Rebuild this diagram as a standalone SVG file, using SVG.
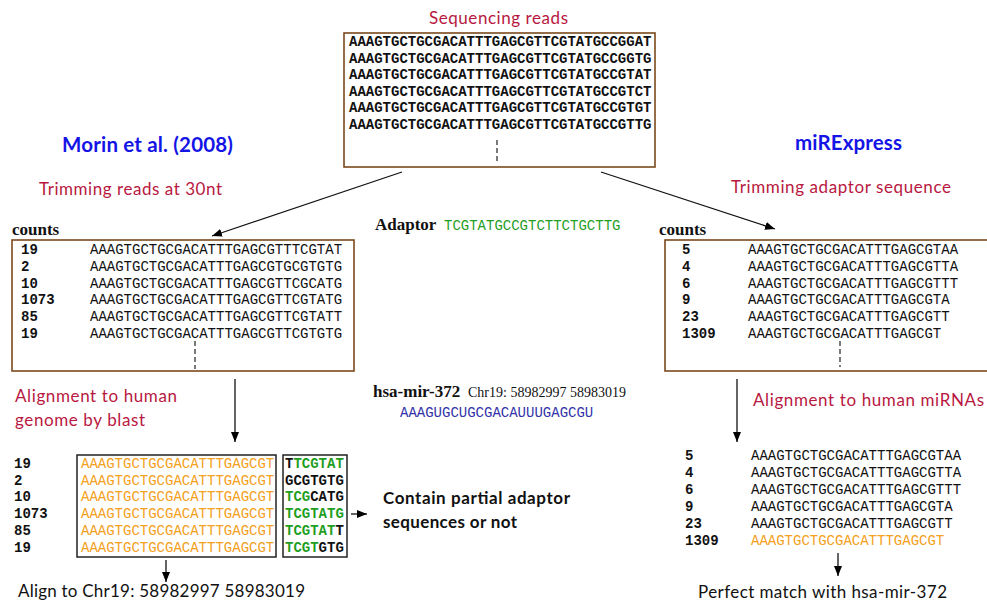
<svg xmlns="http://www.w3.org/2000/svg" width="987" height="604" viewBox="0 0 987 604">
<defs>
<marker id="ah" viewBox="0 0 10 8" refX="10" refY="4" markerWidth="10" markerHeight="8" markerUnits="userSpaceOnUse" orient="auto">
<path d="M0,0 L10,4 L0,8 Z" fill="#000"/>
</marker>
<style>
.box{fill:#fff;stroke:#7b4a1c;stroke-width:1.6}
.kbox{fill:#fff;stroke:#222;stroke-width:1.5}
.seq{font-family:"Liberation Mono",monospace;font-size:14px;fill:#111}
.sb{font-weight:bold}
.num{font-family:"Liberation Mono",monospace;font-size:14px;font-weight:bold;fill:#111}
.red{font-family:Lato,"Open Sans",sans-serif;font-size:17px;fill:#b8183f}
.blk{font-family:Lato,"Open Sans",sans-serif;font-size:17px;fill:#111}
.head{font-family:Lato,"Open Sans",sans-serif;font-size:20.5px;font-weight:bold;fill:#1414e6}
.ser{font-family:"Liberation Serif",serif;font-weight:bold;fill:#111}
.dash{stroke:#222;stroke-width:1.2;stroke-dasharray:5,3}
.conn{stroke:#111;stroke-width:1.3;fill:none;marker-end:url(#ah)}
.org{fill:#f4a020}
.grn{fill:#1f9e1f}
</style>
</defs>
<rect width="987" height="604" fill="#fff"/>

<g id="reads">
<text class="red" x="429" y="24" textLength="139">Sequencing reads</text>
<rect class="box" x="344" y="33" width="311" height="134"/>
<g class="seq sb">
<text x="349" y="46">AAAGTGCTGCGACATTTGAGCGTTCGTATGCCGGAT</text>
<text x="349" y="62.6">AAAGTGCTGCGACATTTGAGCGTTCGTATGCCGGTG</text>
<text x="349" y="79.2">AAAGTGCTGCGACATTTGAGCGTTCGTATGCCGTAT</text>
<text x="349" y="95.8">AAAGTGCTGCGACATTTGAGCGTTCGTATGCCGTCT</text>
<text x="349" y="112.4">AAAGTGCTGCGACATTTGAGCGTTCGTATGCCGTGT</text>
<text x="349" y="129">AAAGTGCTGCGACATTTGAGCGTTCGTATGCCGTTG</text>
</g>
<line class="dash" x1="497" y1="140" x2="497" y2="164"/>
</g>

<g id="morin-title">
<text class="head" x="62" y="152" textLength="171">Morin et al. (2008)</text>
<text class="red" x="39" y="195" textLength="183">Trimming reads at 30nt</text>
</g>

<g id="mirexpress-title">
<text class="head" x="795" y="150" textLength="107">miRExpress</text>
<text class="red" x="731" y="193" textLength="220">Trimming adaptor sequence</text>
</g>

<g id="left-counts">
<text class="ser" x="12" y="235" font-size="17">counts</text>
<rect class="box" x="12" y="240" width="342" height="131"/>
<g class="num">
<text x="21" y="254">19</text>
<text x="21" y="270.8">2</text>
<text x="21" y="287.6">10</text>
<text x="21" y="304.4">1073</text>
<text x="21" y="321.2">85</text>
<text x="21" y="338">19</text>
</g>
<g class="seq">
<text x="90" y="254">AAAGTGCTGCGACATTTGAGCGTTTCGTAT</text>
<text x="90" y="270.8">AAAGTGCTGCGACATTTGAGCGTGCGTGTG</text>
<text x="90" y="287.6">AAAGTGCTGCGACATTTGAGCGTTCGCATG</text>
<text x="90" y="304.4">AAAGTGCTGCGACATTTGAGCGTTCGTATG</text>
<text x="90" y="321.2">AAAGTGCTGCGACATTTGAGCGTTCGTATT</text>
<text x="90" y="338">AAAGTGCTGCGACATTTGAGCGTTCGTGTG</text>
</g>
<line class="dash" x1="195" y1="341" x2="195" y2="369"/>
</g>

<g id="right-counts">
<text class="ser" x="659" y="235" font-size="17">counts</text>
<rect class="box" x="665" y="240" width="340" height="131"/>
<g class="num">
<text x="682" y="254">5</text>
<text x="682" y="270.8">4</text>
<text x="682" y="287.6">6</text>
<text x="682" y="304.4">9</text>
<text x="682" y="321.2">23</text>
<text x="682" y="338">1309</text>
</g>
<g class="seq">
<text x="748" y="254">AAAGTGCTGCGACATTTGAGCGTAA</text>
<text x="748" y="270.8">AAAGTGCTGCGACATTTGAGCGTTA</text>
<text x="748" y="287.6">AAAGTGCTGCGACATTTGAGCGTTT</text>
<text x="748" y="304.4">AAAGTGCTGCGACATTTGAGCGTA</text>
<text x="748" y="321.2">AAAGTGCTGCGACATTTGAGCGTT</text>
<text x="748" y="338">AAAGTGCTGCGACATTTGAGCGT</text>
</g>
<line class="dash" x1="840" y1="341" x2="840" y2="367"/>
</g>

<g id="adaptor">
<text class="ser" x="375" y="230" font-size="17">Adaptor</text>
<text class="seq grn" x="444" y="230">TCGTATGCCGTCTTCTGCTTG</text>
</g>

<g id="mir372">
<text class="ser" x="373" y="397" font-size="17">hsa-mir-372</text>
<text x="468" y="397" font-family="'Liberation Serif',serif" font-size="14" fill="#111">Chr19: 58982997 58983019</text>
<text class="seq" x="400" y="417" style="fill:#3333a8">AAAGUGCUGCGACAUUUGAGCGU</text>
</g>

<g id="left-align-label">
<text class="red" x="15" y="402" textLength="162">Alignment to human</text>
<text class="red" x="15" y="426" textLength="130">genome by blast</text>
</g>

<g id="right-align-label">
<text class="red" x="753" y="406" textLength="231">Alignment to human  miRNAs</text>
</g>

<g id="left-alignment">
<g class="num">
<text x="14" y="468">19</text>
<text x="14" y="484.7">2</text>
<text x="14" y="501.4">10</text>
<text x="14" y="518.1">1073</text>
<text x="14" y="534.8">85</text>
<text x="14" y="551.5">19</text>
</g>
<rect class="kbox" x="77" y="455" width="199" height="102"/>
<g class="seq org">
<text x="81" y="468">AAAGTGCTGCGACATTTGAGCGT</text>
<text x="81" y="484.7">AAAGTGCTGCGACATTTGAGCGT</text>
<text x="81" y="501.4">AAAGTGCTGCGACATTTGAGCGT</text>
<text x="81" y="518.1">AAAGTGCTGCGACATTTGAGCGT</text>
<text x="81" y="534.8">AAAGTGCTGCGACATTTGAGCGT</text>
<text x="81" y="551.5">AAAGTGCTGCGACATTTGAGCGT</text>
</g>
<rect class="kbox" x="283" y="455" width="64" height="102"/>
<g class="seq sb">
<text x="285" y="468">T<tspan class="grn">TCGTAT</tspan></text>
<text x="285" y="484.7">GCGTGTG</text>
<text x="285" y="501.4"><tspan class="grn">TCG</tspan>CATG</text>
<text x="285" y="518.1"><tspan class="grn">TCGTATG</tspan></text>
<text x="285" y="534.8"><tspan class="grn">TCGTAT</tspan>T</text>
<text x="285" y="551.5"><tspan class="grn">TCGT</tspan>GTG</text>
</g>
<text class="blk" x="383" y="504" font-weight="bold" textLength="187">Contain partial adaptor</text>
<text class="blk" x="383" y="528" font-weight="bold" textLength="134">sequences or not</text>
<text class="blk" x="18" y="597" textLength="287">Align to Chr19: 58982997 58983019</text>
</g>

<g id="right-alignment">
<g class="num">
<text x="685" y="460">5</text>
<text x="685" y="477">4</text>
<text x="685" y="494">6</text>
<text x="685" y="511">9</text>
<text x="685" y="528">23</text>
<text x="685" y="545">1309</text>
</g>
<g class="seq">
<text x="751" y="460">AAAGTGCTGCGACATTTGAGCGTAA</text>
<text x="751" y="477">AAAGTGCTGCGACATTTGAGCGTTA</text>
<text x="751" y="494">AAAGTGCTGCGACATTTGAGCGTTT</text>
<text x="751" y="511">AAAGTGCTGCGACATTTGAGCGTA</text>
<text x="751" y="528">AAAGTGCTGCGACATTTGAGCGTT</text>
<text x="751" y="545" style="fill:#f4a020">AAAGTGCTGCGACATTTGAGCGT</text>
</g>
<text class="blk" x="698" y="598" textLength="249">Perfect match with hsa-mir-372</text>
</g>

<g id="connectors">
<line class="conn" x1="402" y1="172" x2="212" y2="236"/>
<line class="conn" x1="601" y1="172" x2="775" y2="229"/>
<line class="conn" x1="235" y1="379" x2="235" y2="442"/>
<line class="conn" x1="737" y1="379" x2="737" y2="442"/>
<line class="conn" x1="351" y1="514" x2="367" y2="514"/>
<line class="conn" x1="166" y1="560" x2="166" y2="582"/>
<line class="conn" x1="838" y1="553" x2="838" y2="576"/>
</g>
</svg>
